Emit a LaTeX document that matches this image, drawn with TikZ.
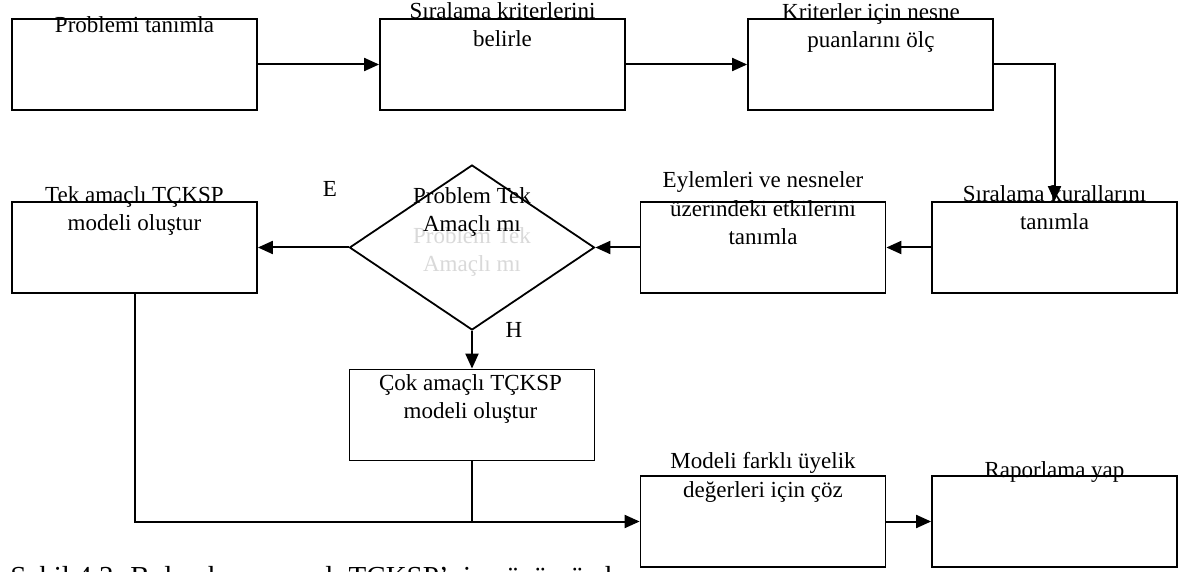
\documentclass[tikz,border=0pt]{standalone}
\usepackage{fontspec}
\setmainfont{Liberation Serif}
\usetikzlibrary{arrows.meta, shapes.geometric}

\begin{document}
\begin{tikzpicture}[
    x=0.5pt, y=-0.5pt,
    box/.style={rectangle, draw=black, line width=0.9pt, fill=white,
                minimum width=122.5pt, minimum height=45.5pt, inner sep=0pt},
    decision/.style={diamond, draw=black, line width=0.9pt, fill=white,
                minimum width=122.5pt, minimum height=82.5pt, inner sep=0pt},
    txt/.style={font=\fontsize{11.5}{14.4}\selectfont, align=center,
                anchor=base, inner sep=0pt},
    ghost/.style={txt, text=black!15},
    arr/.style={-{Triangle[length=7.5pt,width=6.5pt]}, line width=1pt},
    ln/.style={line width=1pt}
]
\useasboundingbox (0,0) rectangle (1179,572);
\clip (0,0) rectangle (1179,572);
% caption, cut by the page edge
\node[font=\fontsize{14.5}{17}\selectfont, anchor=base west, inner sep=0pt]
     (cap) at (10,586) {Şekil 4.3. Bulanık ve amaçlı TÇKSP'nin çözümü akışı};
% boxes
\node[box] (b1) at (134.5,64.5) {};
\node[box] (b2) at (502.5,64.5) {};
\node[box] (b3) at (870.5,64.5) {};
\node[box] (b4) at (1054.5,247.5) {};
\node[box] (b5) at (763,247.5) {};
\node[decision] (dec) at (472,247.5) {};
\node[box] (b7) at (134.5,247.5) {};
\node[box] (b8) at (472,415) {};
\node[box] (b9) at (763,521.5) {};
\node[box] (b10) at (1054.5,521.5) {};
% connectors
\draw[arr] (b1) -- (b2);
\draw[arr] (b2) -- (b3);
\draw[arr] (b3.east) -| (b4.north);
\draw[arr] (b4) -- (b5);
\draw[arr] (b5) -- (dec);
\draw[arr] (dec) -- (b7);
\draw[arr] (dec) -- (b8);
\draw[arr] (b7.south) |- (b9.west);
\draw[ln] (b8.south) -- (b8.south |- b9.west);
\draw[arr] (b9) -- (b10);
% texts (base = last line)
\node[txt] (t1) at (134.5,33) {Problemi tanımla};
\node[txt] (t2) at (502.5,47) {Sıralama kriterlerini\\belirle};
\node[txt] (t3) at (871,48) {Kriterler için nesne\\puanlarını ölç};
\node[txt] (t4) at (1054.5,230) {Sıralama kurallarını\\tanımla};
\node[txt] (t5) at (763,245) {Eylemleri ve nesneler\\üzerindeki etkilerini\\tanımla};
\node[ghost] (t6g) at (472,272) {Problem Tek\\Amaçlı mı};
\node[txt] (t6) at (472,232) {Problem Tek\\Amaçlı mı};
\node[txt] (t7) at (134.5,231) {Tek amaçlı TÇKSP\\modeli oluştur};
\node[txt] (t8) at (470.5,419) {Çok amaçlı TÇKSP\\modeli oluştur};
\node[txt] (t9) at (763,497) {Modeli farklı üyelik\\değerleri için çöz};
\node[txt] (t10) at (1054.5,477) {Raporlama yap};
\node[txt] (lblE) at (330,197) {E};
\node[txt] (lblH) at (514,338) {H};
\end{tikzpicture}
\end{document}
